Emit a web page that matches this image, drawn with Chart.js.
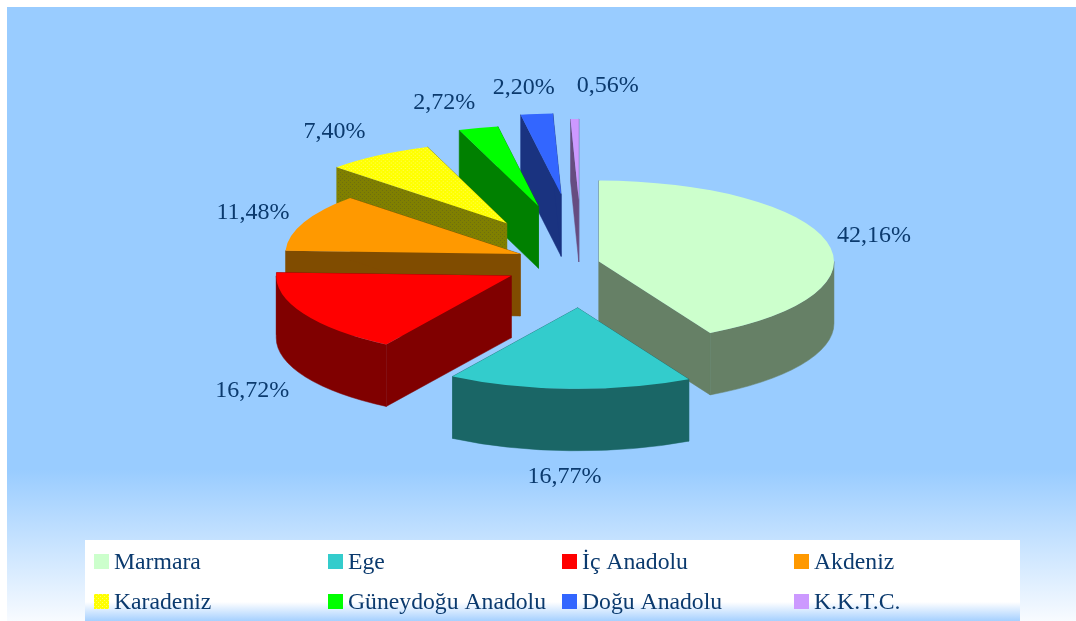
<!DOCTYPE html>
<html>
<head>
<meta charset="utf-8">
<style>html,body{margin:0;padding:0;background:#fff}canvas{display:block}</style>
<script src="https://cdn.jsdelivr.net/npm/chart.js@4"></script>
</head>
<body>
<canvas id="c" width="1076" height="621"></canvas>
<script>
const regions = ['Marmara','Ege','İç Anadolu','Akdeniz','Karadeniz','Güneydoğu Anadolu','Doğu Anadolu','K.K.T.C.'];
const shares = [42.16,16.77,16.72,11.48,7.40,2.72,2.20,0.56];
const topColors = ['#CCFFCC','#33CCCC','#FF0000','#FF9900','#FFFF00','#00FF00','#3366FF','#CC99FF'];
const wallColors = ['#668066','#1A6666','#800000','#804C00','#808000','#008000','#1A3380','#664C80'];
const explode = [17.5,130,80,67,138,170,200,183];
const labelNudge = [[47,-6],[-5,26],[-51,15],[-51,-10],[-44,-24],[-34,-25],[-13,-26],[33,-33]];
const legendCols = [94,328,562,794];
const legendRows = [554,594];

const TILT = 81/235, DEPTH = 62, INK = '#0B3A6E';

function dither(base, dot){
  const p = document.createElement('canvas'); p.width = 4; p.height = 4;
  const g = p.getContext('2d');
  g.fillStyle = base; g.fillRect(0,0,4,4);
  g.fillStyle = dot; g.fillRect(0,0,1,1); g.fillRect(2,2,1,1);
  return g.createPattern(p,'repeat');
}
const ctx0 = document.getElementById('c').getContext('2d');
const yellowDots = dither('#FFFF00','#FFFF66');
const oliveDots = dither('#808000','#6E6E10');
const topFill = topColors.map((c,i)=> i===4 ? yellowDots : c);
const wallFill = wallColors.map((c,i)=> i===4 ? oliveDots : c);

const backdrop = {
  id:'backdrop',
  beforeDraw(chart){
    const c = chart.ctx;
    c.save();
    c.fillStyle = '#fff'; c.fillRect(0,0,1076,621);
    const g = c.createLinearGradient(0,470,0,621);
    g.addColorStop(0,'#99CCFF'); g.addColorStop(1,'#F8FBFF');
    c.fillStyle = g; c.fillRect(7,7,1069,614);
    c.restore();
  }
};

const pie3d = {
  id:'pie3d',
  beforeDatasetDraw(chart,args){
    const c = chart.ctx;
    const arcs = args.meta.data;
    const geo = arcs.map((a,i)=>{
      const mid = (a.startAngle+a.endAngle)/2;
      return {a,i,dx:Math.cos(mid)*explode[i],dy:Math.sin(mid)*explode[i]*TILT};
    }).sort((p,q)=>p.dy-q.dy);
    geo.forEach(({a,i,dx,dy})=>{
      const x = a.x+dx, y = a.y+dy, r = a.outerRadius, ry = r*TILT;
      const px = t=>x+Math.cos(t)*r, py = t=>y+Math.sin(t)*ry;
      c.save();
      c.fillStyle = wallFill[i]; c.strokeStyle = wallColors[i]; c.lineWidth = 0.5;
      [a.startAngle,a.endAngle].forEach(t=>{
        c.beginPath();
        c.moveTo(x,y); c.lineTo(px(t),py(t)); c.lineTo(px(t),py(t)+DEPTH); c.lineTo(x,y+DEPTH);
        c.closePath(); c.fill(); c.stroke();
      });
      const t0 = Math.max(a.startAngle,0), t1 = Math.min(a.endAngle,Math.PI);
      if(t1>t0){
        c.beginPath();
        c.ellipse(x,y,r,ry,0,t0,t1);
        c.lineTo(px(t1),py(t1)+DEPTH);
        c.ellipse(x,y+DEPTH,r,ry,0,t1,t0,true);
        c.closePath(); c.fill(); c.stroke();
      }
      c.translate(dx,a.y+dy);
      c.scale(1,TILT);
      c.translate(0,-a.y);
      a.draw(c);
      c.restore();
    });
    return false;
  }
};

const annotations = {
  id:'annotations',
  afterDraw(chart){
    const c = chart.ctx;
    const arcs = chart.getDatasetMeta(0).data;
    c.save();
    c.font = '24px "Liberation Serif"';
    c.fillStyle = INK; c.textAlign = 'center'; c.textBaseline = 'middle';
    arcs.forEach((a,i)=>{
      const mid = (a.startAngle+a.endAngle)/2;
      const reach = explode[i]+a.outerRadius;
      const lift = Math.sin(mid)>0.5 ? DEPTH : (i===2 ? DEPTH : 0);
      const x = a.x+Math.cos(mid)*reach+labelNudge[i][0];
      const y = a.y+Math.sin(mid)*reach*TILT+lift+labelNudge[i][1];
      c.fillText(shares[i].toFixed(2).replace('.',',')+'%',x,y);
    });
    // legend panel
    c.fillStyle = '#fff'; c.fillRect(85,540,935,81);
    const g = c.createLinearGradient(0,602,0,621);
    g.addColorStop(0,'rgba(166,208,255,0)'); g.addColorStop(1,'#A6D0FF');
    c.fillStyle = g; c.fillRect(85,602,935,19);
    c.textAlign = 'left'; c.textBaseline = 'alphabetic';
    c.font = '23.7px "Liberation Serif"';
    regions.forEach((name,i)=>{
      const X = legendCols[i%4], Y = legendRows[Math.floor(i/4)];
      c.fillStyle = topFill[i]; c.fillRect(X,Y,15,15);
      c.fillStyle = INK; c.fillText(name,X+20,Y+15);
    });
    c.restore();
  }
};

new Chart(ctx0,{
  type:'pie',
  data:{labels:regions,datasets:[{data:shares,backgroundColor:topFill,borderWidth:0,offset:0,clip:false}]},
  options:{
    responsive:false,animation:false,radius:235,
    layout:{padding:{left:88,right:0,top:0,bottom:95}},
    plugins:{legend:{display:false},tooltip:{enabled:false}},
    events:[]
  },
  plugins:[backdrop,pie3d,annotations]
});
</script>
</body>
</html>
